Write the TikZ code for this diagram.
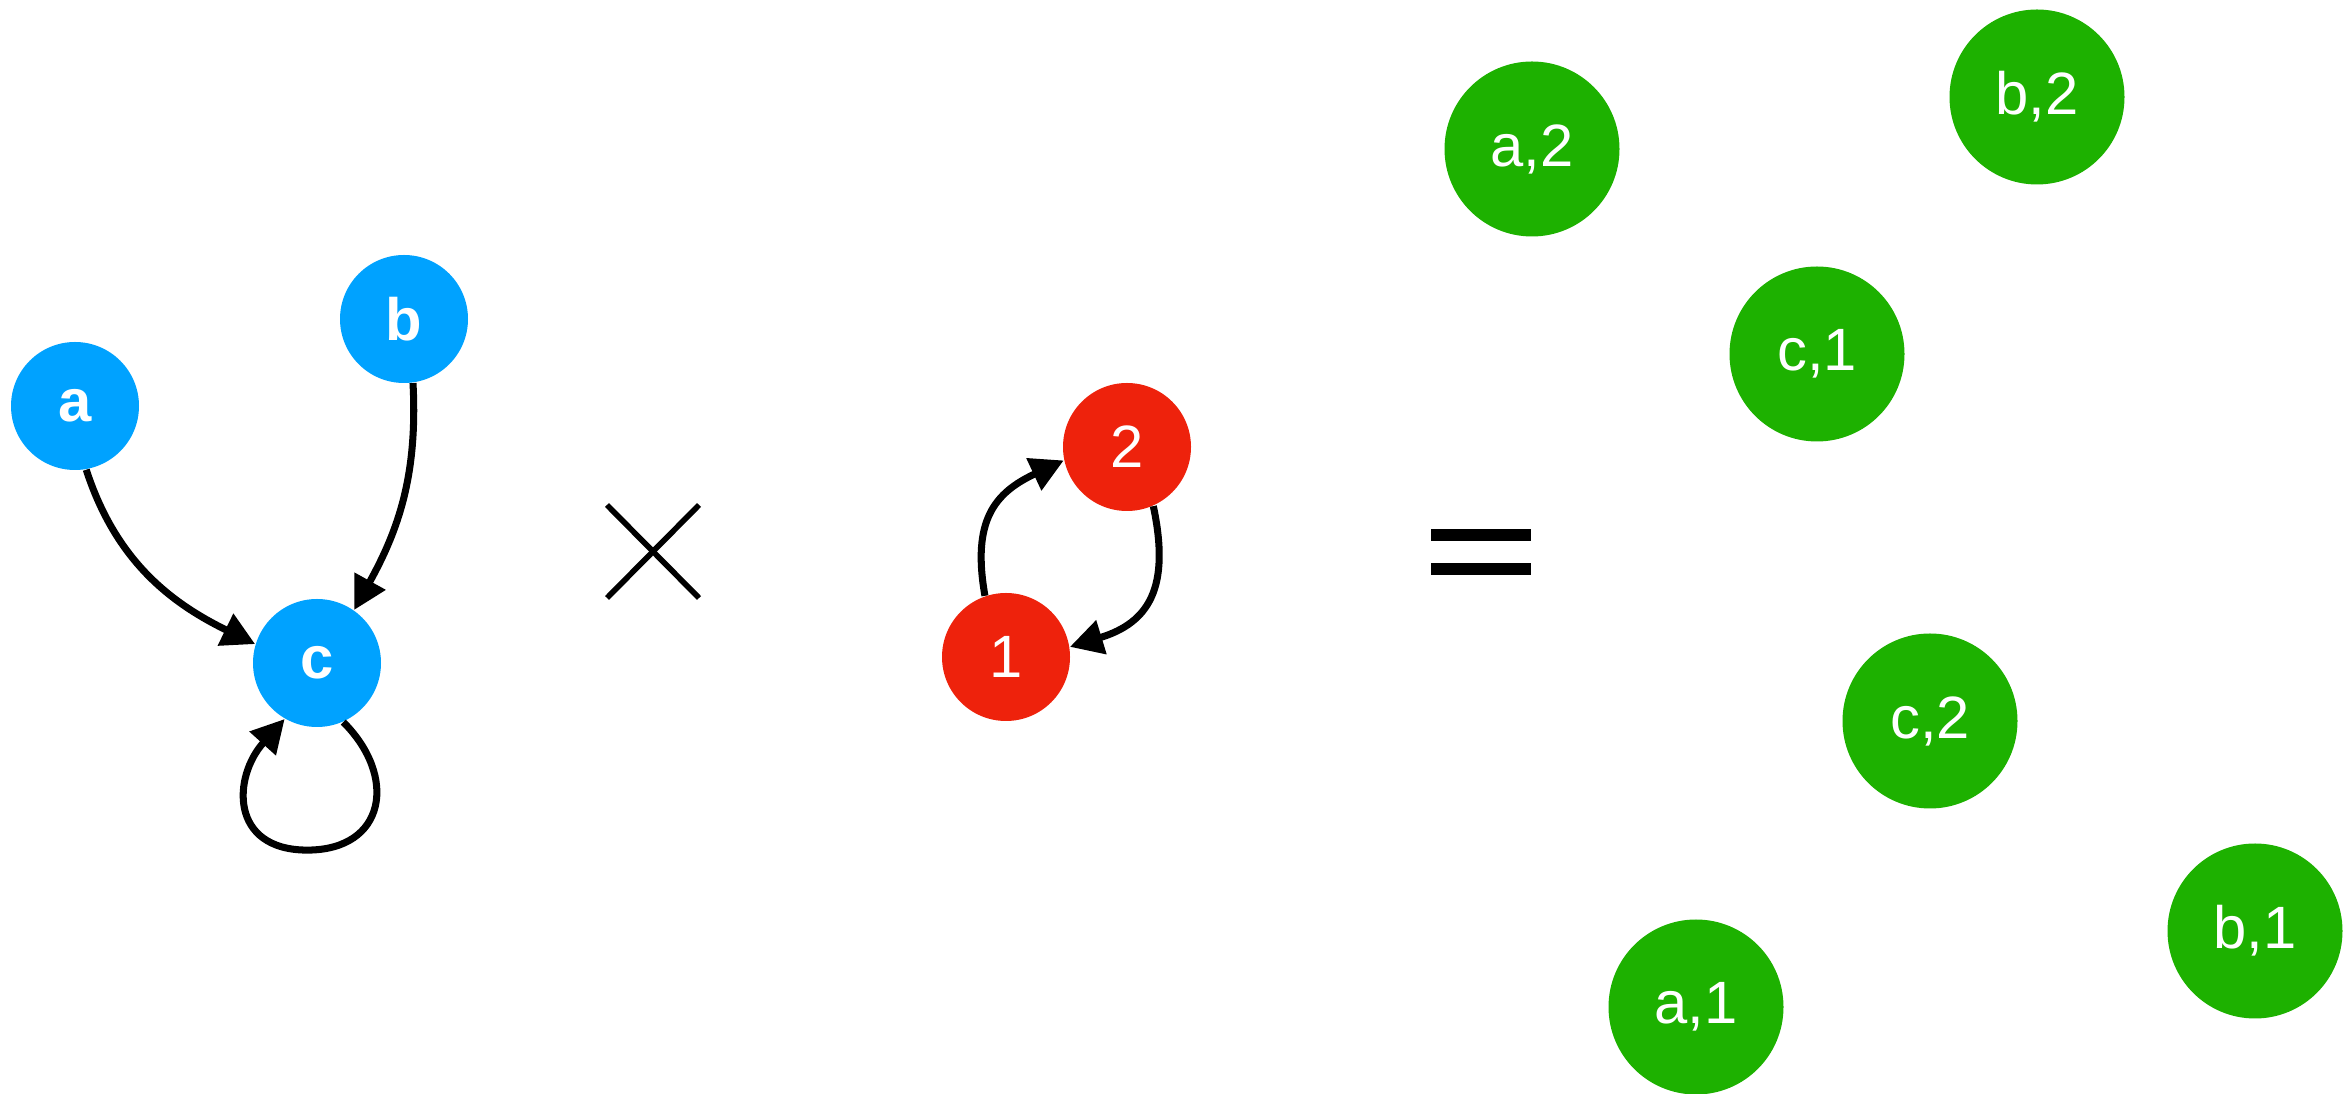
\documentclass[tikz,border=0pt]{standalone}
\usepackage{fontspec}
\setmainfont{Liberation Sans}
\usetikzlibrary{arrows.meta}

\definecolor{nodeBlue}{RGB}{0,162,255}
\definecolor{nodeRed}{RGB}{238,34,12}
\definecolor{nodeGreen}{RGB}{29,177,0}

\begin{document}
\begin{tikzpicture}[
    >={Triangle[length=3.3mm, width=3.4mm]},
    vtx/.style={circle, fill=nodeBlue, text=white, inner sep=0pt, minimum size=1.28cm,
                font=\fontsize{17pt}{20pt}\selectfont\bfseries},
    st/.style={circle, fill=nodeRed, text=white, inner sep=0pt, minimum size=1.28cm,
               font=\fontsize{17pt}{20pt}\selectfont},
    prod/.style={circle, fill=nodeGreen, text=white, inner sep=0pt, minimum size=1.75cm,
                 font=\fontsize{17pt}{20pt}\selectfont},
    edge/.style={->, line width=2pt, black},
    opline/.style={line width=1.6pt, line cap=butt},
    eqbar/.style={line width=3.4pt, line cap=butt},
  ]
  \useasboundingbox (0,0) rectangle (23.52,10.94);

  %% ===== GRAPH G (left) =====
  \node[vtx] (a) at (0.75, 6.88) {a};
  \node[vtx] (b) at (4.04, 7.75) {b};
  \node[vtx] (c) at (3.17, 4.31) {c};

  \draw[edge] (a.-80) to[out=-72, in=154] (c.163);
  \draw[edge] (b.-82) to[out=-87, in=61]  (c.55);
  %% self loop on c, through its lowest point
  \draw[edge] (c.-66) to[out=-45, in=0, looseness=1.5] ++(-0.36,-1.28)
                      to[out=180, in=228, looseness=1.5] (c.-120);

  %% ===== times sign =====
  \coordinate (times) at (6.53, 5.425);
  \draw[opline] (times) ++(-0.46, 0.465) -- ++(0.92,-0.93);
  \draw[opline] (times) ++(-0.46,-0.465) -- ++(0.92, 0.93);

  %% ===== GRAPH H (middle) =====
  \node[st] (r2) at (11.27, 6.47) {2};
  \node[st] (r1) at (10.06, 4.37) {1};

  \draw[edge] (r1.109) to[out=100, in=205, looseness=1.25] (r2.192);
  \draw[edge] (r2.-66) to[out=-78, in=17,  looseness=1.3] (r1.9);

  %% ===== equals sign =====
  \coordinate (equals) at (14.81, 5.42);
  \draw[eqbar] (equals) ++(-0.5, 0.17) -- ++(1.0,0);
  \draw[eqbar] (equals) ++(-0.5,-0.17) -- ++(1.0,0);

  %% ===== PRODUCT (right) =====
  \node[prod] (a2) at (15.32, 9.45) {a,2};
  \node[prod] (b2) at (20.37, 9.97) {b,2};
  \node[prod] (c1) at (18.17, 7.40) {c,1};
  \node[prod] (c2) at (19.30, 3.73) {c,2};
  \node[prod] (b1) at (22.55, 1.63) {b,1};
  \node[prod] (a1) at (16.96, 0.87) {a,1};

\end{tikzpicture}
\end{document}
